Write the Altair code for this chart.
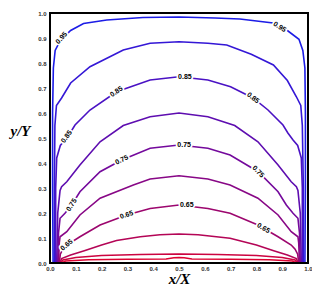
import altair as alt
import pandas as pd

LEVELS = [0.95, 0.90, 0.85, 0.80, 0.75, 0.70, 0.65, 0.60, 0.55, 0.50]
COLORS = ["#1c1ce6", "#3417d6", "#4a12c4", "#5e0db0", "#74099c", "#880786",
          "#9c066e", "#b40556", "#cc0440", "#dc0432"]
TICKS = [0.0, 0.1, 0.2, 0.3, 0.4, 0.5, 0.6, 0.7, 0.8, 0.9, 1.0]

L1_X = [0.012, 0.010, 0.010, 0.013, 0.020, 0.035, 0.045, 0.080, 0.130, 0.220, 0.360, 0.500,
        0.640, 0.736, 0.865, 0.920, 0.965, 0.980, 0.988, 0.990, 0.990, 0.988]
L1_Y = [0.000, 0.300, 0.600, 0.780, 0.850, 0.880, 0.895, 0.930, 0.958, 0.972, 0.982, 0.984,
        0.980, 0.976, 0.960, 0.930, 0.895, 0.850, 0.780, 0.600, 0.300, 0.000]

L2_X = [0.018, 0.017, 0.019, 0.025, 0.045, 0.080, 0.155, 0.284, 0.388, 0.500,
        0.612, 0.685, 0.780, 0.866, 0.920, 0.955, 0.972, 0.978, 0.982, 0.982]
L2_Y = [0.000, 0.300, 0.550, 0.630, 0.660, 0.720, 0.785, 0.852, 0.879, 0.885,
        0.879, 0.872, 0.835, 0.792, 0.730, 0.665, 0.630, 0.550, 0.300, 0.000]

L3_X = [0.022, 0.022, 0.026, 0.040, 0.058, 0.078, 0.097, 0.155, 0.258, 0.388, 0.500,
        0.612, 0.700, 0.787, 0.845, 0.903, 0.922, 0.942, 0.960, 0.974, 0.978, 0.978]
L3_Y = [0.000, 0.300, 0.420, 0.470, 0.492, 0.520, 0.552, 0.612, 0.685, 0.732, 0.745,
        0.732, 0.705, 0.660, 0.612, 0.552, 0.520, 0.492, 0.470, 0.420, 0.300, 0.000]

L4_X = [0.026, 0.030, 0.039, 0.045, 0.065, 0.116, 0.194, 0.284, 0.388, 0.500,
        0.612, 0.716, 0.806, 0.884, 0.935, 0.955, 0.961, 0.970, 0.974]
L4_Y = [0.000, 0.200, 0.290, 0.305, 0.325, 0.392, 0.485, 0.550, 0.585, 0.600,
        0.585, 0.550, 0.485, 0.392, 0.325, 0.305, 0.290, 0.200, 0.000]

L5_X = [0.030, 0.033, 0.039, 0.058, 0.084, 0.116, 0.194, 0.278, 0.388, 0.500,
        0.612, 0.698, 0.807, 0.884, 0.916, 0.942, 0.961, 0.967, 0.970]
L5_Y = [0.000, 0.120, 0.179, 0.199, 0.232, 0.285, 0.365, 0.412, 0.459, 0.472,
        0.459, 0.432, 0.365, 0.285, 0.232, 0.199, 0.179, 0.120, 0.000]

L6_X = [0.033, 0.036, 0.039, 0.065, 0.116, 0.194, 0.323, 0.388, 0.500,
        0.612, 0.698, 0.806, 0.884, 0.935, 0.961, 0.964, 0.967]
L6_Y = [0.000, 0.080, 0.105, 0.125, 0.192, 0.259, 0.312, 0.336, 0.349,
        0.336, 0.312, 0.259, 0.192, 0.125, 0.105, 0.080, 0.000]

L7_X = [0.036, 0.040, 0.050, 0.065, 0.116, 0.194, 0.297, 0.388, 0.500,
        0.612, 0.698, 0.806, 0.884, 0.935, 0.950, 0.960, 0.964]
L7_Y = [0.000, 0.035, 0.055, 0.072, 0.105, 0.152, 0.192, 0.218, 0.232,
        0.218, 0.199, 0.152, 0.105, 0.072, 0.055, 0.035, 0.000]

L8_X = [0.039, 0.045, 0.080, 0.130, 0.200, 0.258, 0.350, 0.426, 0.500,
        0.574, 0.698, 0.800, 0.870, 0.920, 0.955, 0.961]
L8_Y = [0.000, 0.018, 0.032, 0.048, 0.072, 0.090, 0.105, 0.113, 0.116,
        0.113, 0.099, 0.072, 0.048, 0.032, 0.018, 0.000]

L9_X = [0.042, 0.050, 0.100, 0.200, 0.350, 0.500, 0.650, 0.800, 0.900, 0.950, 0.958]
L9_Y = [0.000, 0.012, 0.022, 0.030, 0.034, 0.036, 0.034, 0.030, 0.022, 0.012, 0.000]

L10_X = [0.045, 0.060, 0.150, 0.300, 0.450, 0.480, 0.500, 0.520, 0.550, 0.700, 0.850, 0.940, 0.955]
L10_Y = [0.000, 0.008, 0.013, 0.015, 0.016, 0.021, 0.022, 0.021, 0.016, 0.015, 0.013, 0.008, 0.000]

ALL_X = [L1_X, L2_X, L3_X, L4_X, L5_X, L6_X, L7_X, L8_X, L9_X, L10_X]
ALL_Y = [L1_Y, L2_Y, L3_Y, L4_Y, L5_Y, L6_Y, L7_Y, L8_Y, L9_Y, L10_Y]

LAB_X = [0.045, 0.890, 0.065, 0.258, 0.523, 0.787, 0.084, 0.278, 0.520, 0.807,
         0.065, 0.297, 0.530, 0.827]
LAB_Y = [0.900, 0.944, 0.505, 0.685, 0.745, 0.660, 0.232, 0.412, 0.472, 0.365,
         0.072, 0.192, 0.232, 0.139]
LAB_T = ["0.95", "0.95", "0.85", "0.85", "0.85", "0.85", "0.75", "0.75", "0.75", "0.75",
         "0.65", "0.65", "0.65", "0.65"]
LAB_A = [312, 33, 307, 326, 0, 38, 302, 335, 0, 45, 320, 342, 0, 30]

rows = []
for lev, xs, ys in zip(LEVELS, ALL_X, ALL_Y):
    for i, (x, y) in enumerate(zip(xs, ys)):
        rows.append({"level": lev, "i": i, "x": x, "y": y})
df = pd.DataFrame(rows)
lab = pd.DataFrame({"x": LAB_X, "y": LAB_Y, "t": LAB_T, "a": LAB_A})
frame = pd.DataFrame({"x": [0.0], "x2": [1.0], "y": [0.0], "y2": [1.0]})

xscale = alt.Scale(domain=[0, 1], nice=False, zero=False)
yscale = alt.Scale(domain=[0, 1], nice=False, zero=False)


def xaxis():
    return alt.Axis(values=TICKS, format=".1f", title="x/X", grid=False, ticks=False,
                    domain=False, labelFontSize=6, labelFontWeight="bold", labelColor="#333",
                    labelPadding=2, labelFont="Liberation Sans", labelOverlap=False,
                    titleFont="Liberation Serif", titleFontSize=15, titleFontStyle="italic",
                    titleFontWeight="bold", titleBaseline="middle", titleY=15, titleX=129,
                    labelFlush=False)


def yaxis():
    return alt.Axis(values=TICKS, format=".1f", title="y/Y", grid=False, ticks=False,
                    domain=False, labelFontSize=6, labelFontWeight="bold", labelColor="#333",
                    labelPadding=4, labelFont="Liberation Sans", labelOverlap=False,
                    titleFont="Liberation Serif", titleFontSize=15, titleFontStyle="italic",
                    titleFontWeight="bold", titleAngle=0, titleAlign="center",
                    titleBaseline="middle", titleX=-30, titleY=117, labelFlush=False)


X = lambda f: alt.X(f, scale=xscale, axis=xaxis())
Y = lambda f: alt.Y(f, scale=yscale, axis=yaxis())

lines = alt.Chart(df).mark_line(strokeWidth=1.6, clip=True).encode(
    x=X("x:Q"), y=Y("y:Q"),
    color=alt.Color("level:N", scale=alt.Scale(domain=LEVELS, range=COLORS), legend=None),
    detail="level:N",
    order="i:Q",
)

halo = alt.Chart(lab).mark_text(fontSize=7, fontWeight="bold", font="Liberation Sans",
                                stroke="white", strokeWidth=3.5, fill="white").encode(
    x=X("x:Q"), y=Y("y:Q"), text="t:N", angle=alt.Angle("a:Q", scale=None))

text = alt.Chart(lab).mark_text(fontSize=7, fontWeight="bold", font="Liberation Sans",
                                color="black").encode(
    x=X("x:Q"), y=Y("y:Q"), text="t:N", angle=alt.Angle("a:Q", scale=None))

box = alt.Chart(frame).mark_rect(fill=None, fillOpacity=0, stroke="black", strokeWidth=2).encode(
    x=X("x:Q"), x2="x2:Q", y=Y("y:Q"), y2="y2:Q")

chart = alt.layer(lines, halo, text, box).properties(
    width=258, height=250,
    autosize=alt.AutoSizeParams(type="none"),
    padding={"left": 42, "top": 5, "right": 4, "bottom": 24},
).configure(
    background="white",
).configure_axis(labelOverlap=False).configure_view(strokeWidth=0)

chart.save("out.html", embed_options={"renderer": "svg", "actions": False})
